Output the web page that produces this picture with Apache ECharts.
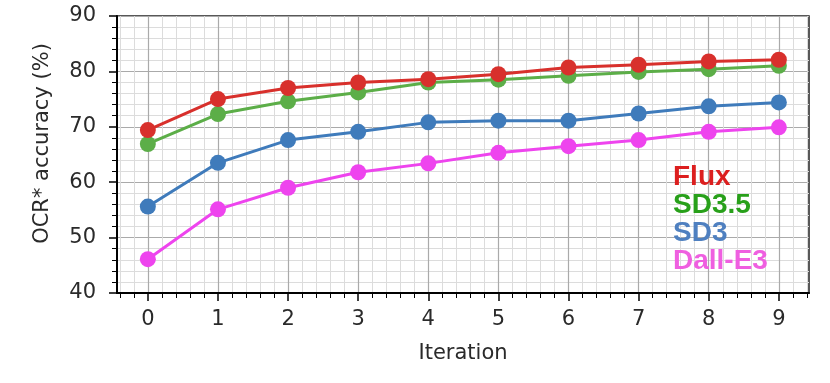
<!DOCTYPE html>
<html>
<head>
<meta charset="utf-8">
<script src="https://cdn.jsdelivr.net/npm/echarts@6/dist/echarts.min.js"></script>
<style>
html,body{margin:0;padding:0;background:#fff;}
#chart{width:830px;height:383px;}
</style>
</head>
<body>
<div id="chart"></div>
<script>
//数据
var iteration=[0,1,2,3,4,5,6,7,8,9];
var flux=[69.4,75.0,77.0,78.0,78.6,79.5,80.7,81.2,81.8,82.1];
var sd35=[66.9,72.3,74.6,76.2,78.0,78.5,79.2,79.9,80.4,81.0];
var sd3=[55.6,63.5,67.6,69.1,70.8,71.1,71.1,72.4,73.7,74.4];
var dalle3=[46.1,55.1,59.0,61.8,63.4,65.3,66.5,67.6,69.1,69.9];
var names=['Flux','SD3.5','SD3','Dall-E3'];
var lineColor=['#d8302c','#5cae48','#3f7bbb','#ee44ee'];
var textColor=['#dc1f1f','#28a01a','#4f80c0','#ef5fe0'];
var xTicks=[0,1,2,3,4,5,6,7,8,9];

function pairs(arr) {
    var res=[];
    for(var i=0;i<arr.length;i++){
        res.push([iteration[i],arr[i]]);
    }
    return res;
}
//画线顺序：Flux在最上
function seriesData() {
    var list=[flux,sd35,sd3,dalle3];
    var arr=[];
    for(var i=list.length-1;i>=0;i--){
        arr.push({
            name:names[i],
            type:'line',
            data:pairs(list[i]),
            symbol:'circle',
            symbolSize:16,
            lineStyle:{width:3,color:lineColor[i]},
            itemStyle:{color:lineColor[i]},
            z:3+list.length-i
        });
    }
    return arr;
}
function legendData() {
    var arr=[];
    for(var i=0;i<names.length;i++){
        arr.push({name:names[i],textStyle:{color:textColor[i]}});
    }
    return arr;
}
var chart=echarts.init(document.getElementById('chart'));
var option={
    animation:false,
    legend:{
        orient:'vertical',
        left:663,
        top:158,
        icon:'none',
        itemWidth:0,
        itemHeight:10,
        itemGap:0,
        textStyle:{fontFamily:'Liberation Sans, Arial',fontWeight:'bold',fontSize:28,lineHeight:26},
        data:legendData()
    },
    grid:{
        left:117,
        right:21,
        top:16,
        bottom:90,
        show:true,
        borderColor:'#222',
        borderWidth:1.5,
        containLabel:false
    },
    xAxis:{
        type:'value',
        min:-0.44,
        max:9.43,
        splitNumber:10,
        name:'Iteration',
        nameLocation:'middle',
        nameGap:50,
        nameTextStyle:{fontFamily:'DejaVu Sans',fontSize:21,color:'#2a2a2a'},
        axisLine:{onZero:false,lineStyle:{color:'#000',width:2}},
        axisTick:{show:true,length:8,lineStyle:{color:'#000',width:1.5},customValues:xTicks},
        axisLabel:{fontFamily:'DejaVu Sans',fontSize:21,color:'#2a2a2a',margin:16,customValues:xTicks},
        minorTick:{show:true,splitNumber:5,length:5,lineStyle:{color:'#000',width:1}},
        splitLine:{show:true,lineStyle:{color:'#aaa',width:1.2}},
        minorSplitLine:{show:true,lineStyle:{color:'#dcdcdc',width:1}}
    },
    yAxis:{
        type:'value',
        min:40,
        max:90,
        interval:10,
        name:'OCR* accuracy (%)',
        nameLocation:'middle',
        nameGap:64,
        nameTextStyle:{fontFamily:'DejaVu Sans',fontSize:21,color:'#2a2a2a',padding:[0,0,0,22]},
        axisLine:{show:true,onZero:false,lineStyle:{color:'#000',width:2}},
        axisTick:{show:true,length:8,lineStyle:{color:'#000',width:1.5}},
        axisLabel:{fontFamily:'DejaVu Sans',fontSize:21,color:'#2a2a2a',margin:21},
        minorTick:{show:true,splitNumber:5,length:5,lineStyle:{color:'#000',width:1}},
        splitLine:{show:true,lineStyle:{color:'#aaa',width:1.2}},
        minorSplitLine:{show:true,lineStyle:{color:'#dcdcdc',width:1}}
    },
    series:seriesData()
};
chart.setOption(option);
</script>
</body>
</html>
